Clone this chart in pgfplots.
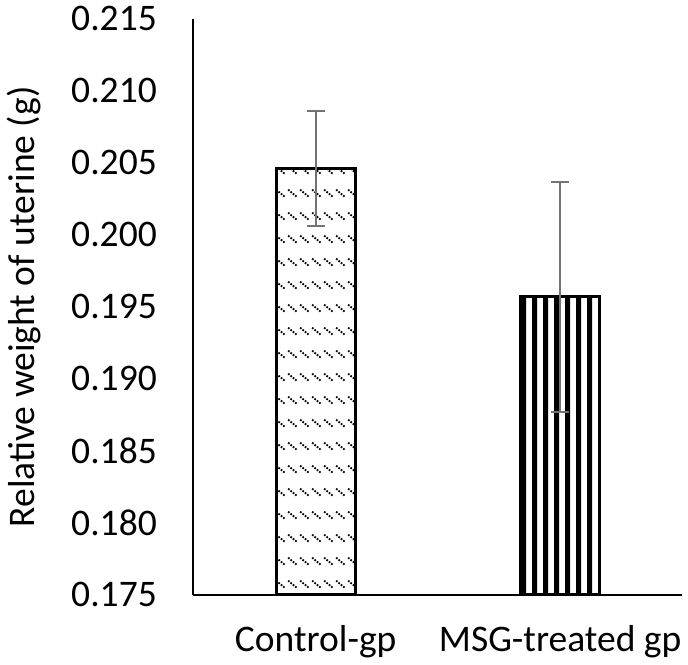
\documentclass[border=0pt]{standalone}
\usepackage{pgfplots}
\pgfplotsset{compat=1.18}
\usepackage{fontspec}
\setmainfont{Carlito}
\usetikzlibrary{patterns.meta}
\pgfdeclarepattern{
  name=msgstripes,
  type=uncolored,
  bottom left={\pgfpoint{0pt}{0pt}},
  top right={\pgfpoint{5.5pt}{400pt}},
  tile size={\pgfpoint{5.5pt}{400pt}},
  code={\pgfpathrectangle{\pgfpoint{0pt}{0pt}}{\pgfpoint{2.6pt}{400pt}}\pgfusepath{fill}}
}
\pgfdeclarepattern{
  name=ctrldash,
  type=uncolored,
  bottom left={\pgfpoint{0pt}{0pt}},
  top right={\pgfpoint{5.8pt}{11.75pt}},
  tile size={\pgfpoint{5.8pt}{11.75pt}},
  code={\pgfsetlinewidth{0.95pt}\pgfsetdash{{0.9pt}{0.7pt}}{0pt}\pgfpathmoveto{\pgfpoint{0.6pt}{8pt}}\pgfpathlineto{\pgfpoint{5pt}{4.4pt}}\pgfusepath{stroke}}
}
\begin{document}
\begin{tikzpicture}
\begin{axis}[
  name=ax,
  scale only axis,
  width=247.5pt, height=291.5pt,
  xmin=-0.5, xmax=1.5,
  ymin=0.175, ymax=0.215,
  axis lines=left,
  axis line style={line width=1pt, -},
  xtick={0,1},
  xticklabels={Control-gp, MSG-treated gp},
  ytick={0.175,0.180,...,0.2151},
  major tick length=0pt,
  /pgf/number format/assume math mode=true,
  yticklabel={\pgfmathprintnumber[fixed,fixed zerofill,precision=3]{\tick}},
  yticklabel style={font=\fontsize{19pt}{22pt}\selectfont, xshift=-15pt},
  xticklabel style={font=\fontsize{19pt}{22pt}\selectfont, yshift=-12pt},
  ylabel={Relative weight of uterine (g)},
  every axis y label/.style={at={(rel axis cs:0,0.5)}, rotate=90, anchor=center, yshift=86pt, font=\fontsize{19pt}{22pt}\selectfont},
  clip=false,
]
\addplot[ybar, bar width=40pt, bar shift=0pt, draw=black, line width=1.5pt,
  pattern=ctrldash,
  error bars/.cd, y dir=both, y explicit,
  error bar style={draw=black!55, line width=1pt},
  error mark options={rotate=90, mark size=4.5pt, draw=black!55, line width=1pt}]
  coordinates {(0,0.2046) +- (0,0.0040)};
\addplot[ybar, bar width=40pt, bar shift=0pt, draw=black, line width=1.5pt,
  pattern=msgstripes,
  error bars/.cd, y dir=both, y explicit,
  error bar style={draw=black!55, line width=1pt},
  error mark options={rotate=90, mark size=4.5pt, draw=black!55, line width=1pt}]
  coordinates {(1,0.1957) +- (0,0.0080)};
\end{axis}
\useasboundingbox ([xshift=-96pt,yshift=-35.5pt]ax.south west) rectangle ([xshift=0.5pt,yshift=8pt]ax.north east);
\end{tikzpicture}
\end{document}
